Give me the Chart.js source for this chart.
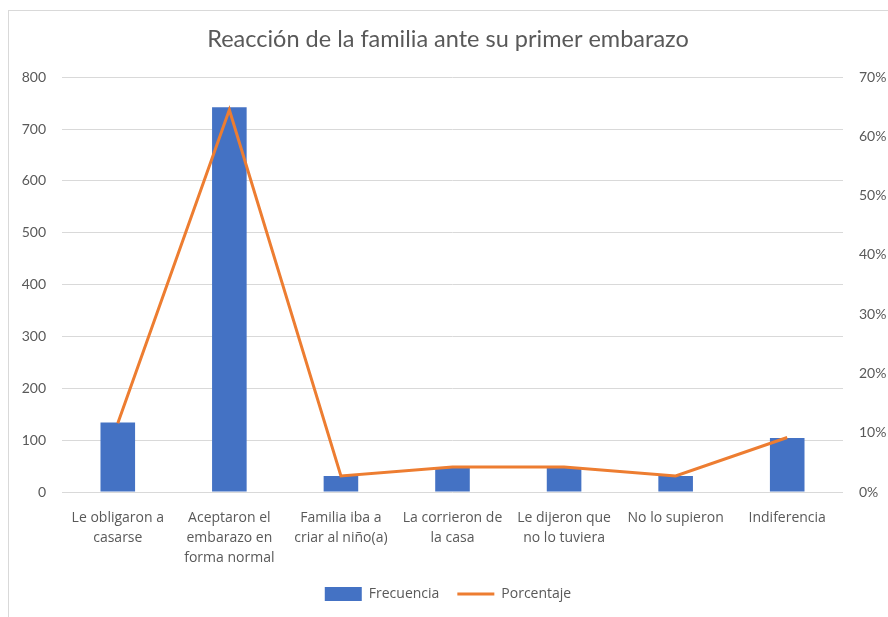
<!DOCTYPE html>
<html>
<head>
<meta charset="utf-8">
<script src="https://cdn.jsdelivr.net/npm/chart.js@4.4.1/dist/chart.umd.min.js"></script>
<style>
  html, body { margin: 0; padding: 0; background: #ffffff; overflow: hidden; }
  #wrap { position: relative; width: 888px; height: 617px; }
  #frame { position: absolute; left: 8px; top: 10px; width: 900px; height: 700px; border: 1px solid #d9d9d9; box-sizing: border-box; }
  canvas { position: absolute; left: 0; top: 0; }
</style>
</head>
<body>
<div id="wrap">
  <div id="frame"></div>
  <canvas id="c" width="888" height="617"></canvas>
</div>
<script>
const categories = [
  ["Le obligaron a", "casarse"],
  ["Aceptaron el", "embarazo en", "forma normal"],
  ["Familia iba a", "criar al niño(a)"],
  ["La corrieron de", "la casa"],
  ["Le dijeron que", "no lo tuviera"],
  "No lo supieron",
  "Indiferencia"
];
const frecuencia = [134, 742, 31, 47, 47, 31, 104];
const porcentaje = [0.116, 0.645, 0.027, 0.042, 0.042, 0.027, 0.092];
const leftTicks = [0, 100, 200, 300, 400, 500, 600, 700, 800];
const rightTicks = [0, 0.1, 0.2, 0.3, 0.4, 0.5, 0.6, 0.7];

const FONT = "Lato, 'Open Sans', sans-serif";
const WIDE = "'Open Sans', Lato, sans-serif";
const GREY = "#595959";

new Chart(document.getElementById('c'), {
  data: {
    labels: categories,
    datasets: [
      {
        type: 'line',
        label: 'Porcentaje',
        data: porcentaje,
        yAxisID: 'y1',
        borderColor: '#ED7D31',
        backgroundColor: '#ED7D31',
        borderWidth: 3,
        pointRadius: 0,
        tension: 0,
        order: 0
      },
      {
        type: 'bar',
        label: 'Frecuencia',
        data: frecuencia,
        yAxisID: 'y',
        backgroundColor: '#4472C4',
        borderWidth: 0,
        barPercentage: 0.62,
        categoryPercentage: 0.5,
        order: 1
      }
    ]
  },
  options: {
    responsive: false,
    animation: false,
    layout: { padding: { left: 8, right: 0, top: 12, bottom: 6 } },
    plugins: {
      title: {
        display: true,
        text: 'Reacción de la familia ante su primer embarazo',
        color: GREY,
        font: { family: FONT, size: 23.5, weight: 'normal' },
        padding: { top: 13, bottom: 24 }
      },
      legend: {
        position: 'bottom',
        reverse: true,
        labels: {
          color: GREY,
          font: { family: WIDE, size: 14 },
          usePointStyle: true,
          pointStyleWidth: 37,
          boxHeight: 14,
          padding: 18,
          generateLabels(chart) {
            const items = Chart.defaults.plugins.legend.labels.generateLabels(chart);
            items.forEach(it => {
              const ds = chart.data.datasets[it.datasetIndex];
              if (ds.type === 'line') { it.pointStyle = 'line'; it.lineWidth = 3; it.strokeStyle = '#ED7D31'; }
              else { it.pointStyle = 'rect'; it.lineWidth = 0; }
            });
            return items;
          }
        }
      },
      tooltip: { enabled: false }
    },
    scales: {
      x: {
        grid: { display: false },
        border: { display: false },
        ticks: {
          color: GREY,
          font: { family: WIDE, size: 14, lineHeight: 1.42 },
          maxRotation: 0,
          autoSkip: false,
          padding: 8
        },
        afterFit(scale) { scale.height = 77; }
      },
      y: {
        position: 'left',
        min: 0, max: 800,
        afterBuildTicks(scale) { scale.ticks = leftTicks.map(v => ({ value: v })); },
        grid: { color: '#d9d9d9', lineWidth: 1, drawTicks: false },
        border: { display: false },
        ticks: { color: GREY, font: { family: FONT, size: 14 }, padding: 16 },
        afterFit(scale) { scale.width = 54; }
      },
      y1: {
        position: 'right',
        min: 0, max: 0.7,
        afterBuildTicks(scale) { scale.ticks = rightTicks.map(v => ({ value: v })); },
        grid: { display: false, drawTicks: false },
        border: { display: false },
        ticks: {
          color: GREY,
          font: { family: FONT, size: 14 },
          padding: 16,
          callback: v => Math.round(v * 100) + '%'
        },
        afterFit(scale) { scale.width = 45; }
      }
    }
  }
});
</script>
</body>
</html>
